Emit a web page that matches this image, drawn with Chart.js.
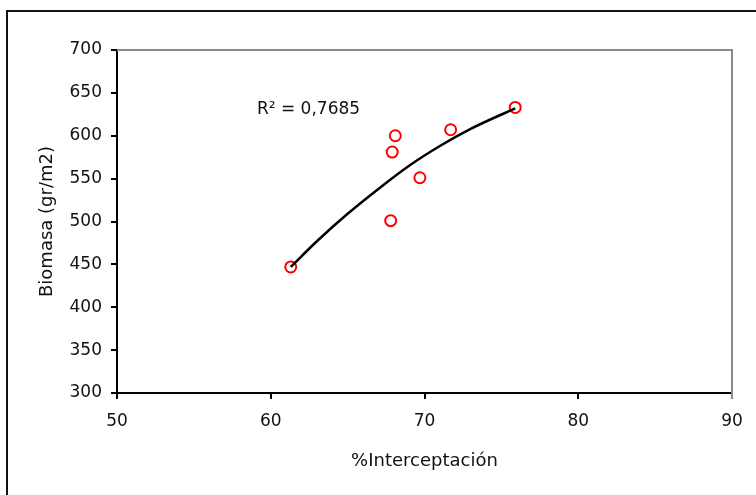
<!DOCTYPE html>
<html><head><meta charset="utf-8">
<script src="https://cdn.jsdelivr.net/npm/chart.js@4"></script>
<style>
html,body{margin:0;padding:0;background:#fff;overflow:hidden;}
#wrap{position:relative;width:756px;height:495px;overflow:hidden;}
#frame{position:absolute;left:6px;top:10px;width:800px;height:600px;border:2px solid #111;box-sizing:border-box;pointer-events:none;}
canvas{position:absolute;left:0;top:0;}
</style></head><body>
<div id="wrap"><canvas id="c" width="756" height="495"></canvas><div id="frame"></div></div>
<script>
const interceptacion = [61.3, 67.8, 67.9, 68.1, 69.7, 71.7, 75.9];
const biomasa = [447, 501, 581, 600, 551, 607, 633];
// Trend line (polynomial)
const trendX = [61.3, 63, 65, 67, 69, 71, 73, 75.9];
const trendY = [447, 477, 509, 538, 565, 588, 608, 632];
// Axis ticks
const xTicks = [50, 60, 70, 80, 90];
const yTicks = [300, 350, 400, 450, 500, 550, 600, 650, 700];
const r2Text = 'R\u00B2 = 0,7685';
const r2Pos = [59.1, 630];
const xTitle = '%Interceptación';
const yTitle = 'Biomasa (gr/m2)';

const FONT = 'DejaVu Sans';

const scatterData = interceptacion.map((x, i) => ({x, y: biomasa[i]}));
const trendData = trendX.map((x, i) => ({x, y: trendY[i]}));

const framePlugin = {
  id: 'framePlugin',
  beforeDatasetsDraw(chart) {
    const {ctx, chartArea: a} = chart;
    ctx.save();
    ctx.strokeStyle = '#8a8a8a';
    ctx.lineWidth = 2;
    ctx.beginPath();
    ctx.moveTo(a.left, a.top);
    ctx.lineTo(a.right, a.top);
    ctx.lineTo(a.right, a.bottom + 6);
    ctx.stroke();
    ctx.restore();
  },
  afterDatasetsDraw(chart) {
    const {ctx, scales} = chart;
    const px = scales.x.getPixelForValue(r2Pos[0]);
    const py = scales.y.getPixelForValue(r2Pos[1]);
    ctx.save();
    ctx.fillStyle = '#111';
    ctx.font = '17px "' + FONT + '"';
    ctx.textAlign = 'left';
    ctx.textBaseline = 'middle';
    ctx.fillText(r2Text, px, py);
    ctx.restore();
  }
};

new Chart(document.getElementById('c'), {
  type: 'scatter',
  data: {
    datasets: [
      {
        type: 'line',
        label: 'Tendencia',
        data: trendData,
        borderColor: '#000',
        borderWidth: 2.5,
        pointRadius: 0,
        fill: false,
        cubicInterpolationMode: 'monotone',
        order: 0
      },
      {
        label: 'Biomasa',
        data: scatterData,
        pointRadius: 5.5,
        pointBorderWidth: 2,
        borderColor: '#ff0000',
        backgroundColor: 'rgba(255,255,255,0)',
        pointStyle: 'circle',
        order: 1
      }
    ]
  },
  options: {
    responsive: false,
    animation: false,
    devicePixelRatio: 1,
    layout: {padding: {left: 0, top: 50, right: 24, bottom: 0}},
    plugins: {legend: {display: false}, tooltip: {enabled: false}},
    scales: {
      x: {
        type: 'linear',
        min: 50, max: 90,
        afterBuildTicks(s) { s.ticks = xTicks.map(v => ({value: v})); },
        afterFit(s) { s.height = 102; },
        ticks: {color: '#111', font: {family: FONT, size: 17}, padding: 12},
        grid: {display: true, drawOnChartArea: false, drawTicks: true, tickLength: 6, color: '#000', lineWidth: 2},
        border: {display: true, color: '#000', width: 2},
        title: {display: true, text: xTitle, color: '#111', font: {family: FONT, size: 18, lineHeight: 1.2}, padding: {top: 0, bottom: 23}}
      },
      y: {
        type: 'linear',
        min: 300, max: 700,
        afterBuildTicks(s) { s.ticks = yTicks.map(v => ({value: v})); },
        afterFit(s) { s.width = 117; },
        ticks: {color: '#111', font: {family: FONT, size: 17}, padding: 9},
        grid: {display: true, drawOnChartArea: false, drawTicks: true, tickLength: 6, color: '#000', lineWidth: 2},
        border: {display: true, color: '#000', width: 2},
        title: {display: true, text: yTitle, color: '#111', font: {family: FONT, size: 18, lineHeight: 1.2}, padding: {top: 37, bottom: 0}}
      }
    }
  },
  plugins: [framePlugin]
});
</script>
</body></html>
